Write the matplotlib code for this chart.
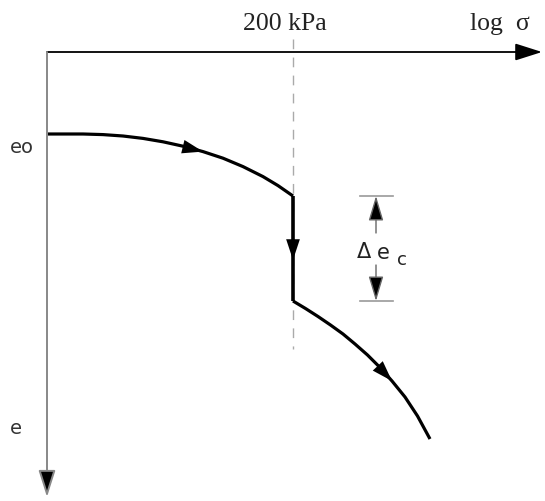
import matplotlib
matplotlib.use("Agg")
import matplotlib.pyplot as plt

# Diagram data (schematic units: x ~ log sigma, y ~ e, image-like coordinates)
curve1_x = [48, 83, 103, 123, 143, 163, 183, 203, 223, 243, 263, 278, 293]
curve1_y = [135, 135, 135.6, 137.0, 139.4, 142.8, 147.2, 152.6, 159.2, 167.6, 177.6, 186.6, 197]
drop_x = [293, 293]
drop_y = [197, 302]
curve2_x = [293, 305.5, 318, 330.5, 343, 355, 367.5, 380, 392, 405, 417.5, 430]
curve2_y = [302, 309.5, 317.5, 326, 335, 345, 356, 368.5, 382, 398, 417, 440]
sigma_p = 293          # 200 kPa position
axis_origin = (47, 53)
labels = {"x_axis": "log  σ", "pc": "200 kPa", "e0": "eo", "e": "e"}

fig = plt.figure(figsize=(5.45, 5.02), dpi=100)
ax = fig.add_axes([0, 0, 1, 1])
ax.set_xlim(0, 545)
ax.set_ylim(502, 0)
ax.axis("off")

ox, oy = axis_origin
ax.annotate("", xy=(542, oy), xytext=(ox, oy),
            arrowprops=dict(arrowstyle="-|>,head_length=1.1,head_width=0.35", lw=1.3,
                            color="black", shrinkA=0, shrinkB=0, mutation_scale=15))
ax.annotate("", xy=(ox, 498), xytext=(ox, oy),
            arrowprops=dict(arrowstyle="-|>,head_length=1.1,head_width=0.35", lw=1.4,
                            shrinkA=0, shrinkB=0, mutation_scale=15,
                            fc="black", ec="#888888"))

# dashed line at 200 kPa
ax.plot([sigma_p, sigma_p], [40, 350], color="#aaaaaa", lw=1.0, dashes=(7, 6))

# curves
ax.plot(curve1_x, curve1_y, color="black", lw=2.3, solid_capstyle="butt",
        solid_joinstyle="round")
ax.plot(drop_x, drop_y, color="black", lw=2.6, solid_capstyle="butt")
ax.plot(curve2_x, curve2_y, color="black", lw=2.3, solid_capstyle="butt",
        solid_joinstyle="round")

small_head = dict(arrowstyle="-|>,head_length=1.15,head_width=0.38", lw=0,
                  color="black", shrinkA=0, shrinkB=0, mutation_scale=13)

def mid_arrow(xs, ys, i):
    ax.annotate("", xy=(xs[i + 1], ys[i + 1]), xytext=(xs[i - 1], ys[i - 1]),
                arrowprops=small_head)

mid_arrow(curve1_x, curve1_y, 6)
ax.annotate("", xy=(293, 261), xytext=(293, 235), arrowprops=small_head)
mid_arrow(curve2_x, curve2_y, 7)

# delta e_c dimension
ax.plot([360, 393], [drop_y[0], drop_y[0]], color="#999999", lw=1.2)
ax.plot([360, 393], [drop_y[1], drop_y[1]], color="#999999", lw=1.2)
dim_head = dict(arrowstyle="-|>,head_length=1.1,head_width=0.33", lw=1.0,
                ec="#666666", fc="black", shrinkA=0, shrinkB=0, mutation_scale=14)
ax.annotate("", xy=(376, drop_y[0]), xytext=(376, 234), arrowprops=dim_head)
ax.annotate("", xy=(376, drop_y[1]), xytext=(376, 266), arrowprops=dim_head)

ax.text(357, 252, "Δ", fontsize=15, family="DejaVu Sans", ha="left", va="center",
        color="#222222")
ax.text(377, 253, "e", fontsize=15, family="DejaVu Sans", ha="left", va="center",
        color="#222222")
ax.text(397, 260, "c", fontsize=13, family="DejaVu Sans", ha="left", va="center",
        color="#222222")

# labels
ax.text(285, 24, labels["pc"], fontsize=18.5, family="Liberation Serif", ha="center",
        va="center", color="#222222")
ax.text(500, 24, labels["x_axis"], fontsize=18.5, family="Liberation Serif", ha="center",
        va="center", color="#222222")
ax.text(22, 148, labels["e0"], fontsize=14, family="DejaVu Sans", ha="center",
        va="center", color="#333333")
ax.text(16, 429, labels["e"], fontsize=14, family="DejaVu Sans", ha="center",
        va="center", color="#333333")

fig.savefig("out.png", dpi=100)
